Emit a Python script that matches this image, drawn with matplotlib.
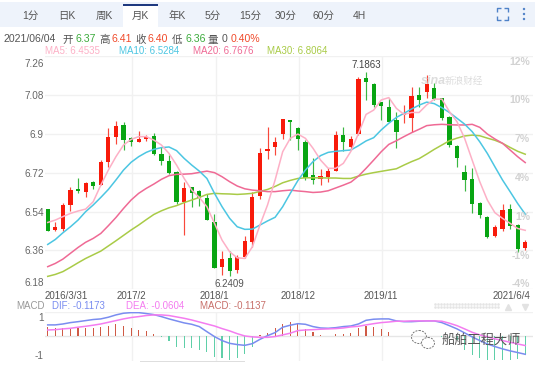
import matplotlib
matplotlib.use("Agg")
import matplotlib.pyplot as plt
from matplotlib.patches import Rectangle, Ellipse
from matplotlib.transforms import ScaledTranslation

plt.rcParams['font.family'] = ['Liberation Sans', 'Noto Sans CJK SC', 'DejaVu Sans']

open_ = [6.551,6.455,6.459,6.569,6.645,6.631,6.679,6.665,6.769,6.886,6.942,6.881,6.863,6.877,6.889,6.807,6.776,6.724,6.586,6.653,6.634,6.603,6.490,6.282,6.325,6.268,6.328,6.401,6.612,6.820,
         6.838,6.898,6.963,6.926,6.863,6.708,6.691,6.702,6.728,6.897,6.838,6.900,7.161,7.131,7.047,7.025,6.964,6.988,6.973,7.081,7.096,7.115,7.066,6.979,6.844,6.724,6.690,6.580,6.516,6.427,6.459,6.554,6.478,6.37]
close = [6.449,6.469,6.569,6.640,6.634,6.671,6.660,6.769,6.886,6.937,6.872,6.861,6.877,6.885,6.807,6.775,6.718,6.586,6.648,6.628,6.605,6.500,6.280,6.320,6.265,6.328,6.404,6.609,6.810,6.829,
         6.863,6.968,6.956,6.875,6.694,6.688,6.704,6.727,6.895,6.861,6.877,7.155,7.143,7.035,7.031,6.957,6.911,6.997,7.078,7.059,7.131,7.062,6.976,6.849,6.790,6.687,6.575,6.524,6.422,6.467,6.548,6.473,6.367,6.40]
high = [6.551,6.493,6.578,6.653,6.696,6.679,6.684,6.779,6.928,6.959,6.956,6.885,6.912,6.895,6.903,6.838,6.803,6.727,6.677,6.656,6.640,6.622,6.527,6.357,6.356,6.337,6.427,6.633,6.837,6.931,
        6.885,6.971,6.963,6.931,6.872,6.789,6.736,6.741,6.915,6.931,6.891,7.164,7.1863,7.135,7.050,7.068,7.003,7.035,7.119,7.119,7.174,7.135,7.068,6.982,6.849,6.755,6.744,6.585,6.520,6.478,6.574,6.574,6.481,6.41]
low = [6.449,6.449,6.449,6.544,6.625,6.609,6.645,6.665,6.748,6.854,6.826,6.843,6.863,6.868,6.804,6.755,6.714,6.574,6.430,6.563,6.566,6.500,6.280,6.246,6.2409,6.257,6.325,6.377,6.597,6.786,
       6.803,6.878,6.872,6.826,6.687,6.668,6.662,6.677,6.728,6.823,6.826,6.895,7.058,7.027,6.965,6.956,6.836,6.951,6.909,7.027,7.068,7.058,6.965,6.841,6.747,6.637,6.535,6.509,6.419,6.424,6.452,6.459,6.354,6.36]

ma5 = [6.490,6.501,6.517,6.532,6.543,6.552,6.586,6.663,6.733,6.795,6.849,6.875,6.888,6.888,6.872,6.849,6.810,6.756,6.694,6.640,6.606,6.563,6.486,6.408,6.354,6.326,6.323,6.377,6.478,6.571,
       6.687,6.818,6.880,6.900,6.880,6.834,6.779,6.741,6.741,6.764,6.820,6.903,6.991,7.011,7.058,7.069,7.019,6.991,7.000,7.000,7.035,7.062,7.062,7.004,6.957,6.880,6.779,6.679,6.594,6.535,6.509,6.486,6.462,6.4535]
ma10 = [6.388,6.411,6.442,6.470,6.501,6.540,6.571,6.606,6.643,6.687,6.733,6.769,6.795,6.815,6.829,6.837,6.840,6.823,6.787,6.756,6.728,6.694,6.625,6.563,6.509,6.470,6.458,6.459,6.478,6.497,
        6.514,6.563,6.625,6.684,6.733,6.772,6.800,6.815,6.820,6.823,6.826,6.846,6.868,6.883,6.919,6.950,6.977,6.996,7.016,7.034,7.048,7.041,7.022,7.000,6.973,6.946,6.911,6.864,6.810,6.748,6.687,6.633,6.578,6.5284]
ma20 = [6.285,6.300,6.320,6.347,6.374,6.398,6.416,6.439,6.475,6.513,6.555,6.594,6.625,6.648,6.668,6.690,6.707,6.713,6.714,6.716,6.722,6.728,6.721,6.702,6.679,6.659,6.646,6.640,6.637,6.633,
        6.633,6.637,6.640,6.636,6.633,6.629,6.631,6.637,6.650,6.663,6.677,6.705,6.741,6.779,6.818,6.852,6.869,6.888,6.906,6.922,6.939,6.943,6.945,6.943,6.942,6.942,6.945,6.931,6.900,6.877,6.857,6.826,6.795,6.7676]
ma30 = [6.240,6.249,6.262,6.282,6.303,6.323,6.340,6.357,6.381,6.405,6.430,6.455,6.478,6.503,6.527,6.544,6.558,6.568,6.582,6.594,6.606,6.620,6.625,6.623,6.622,6.620,6.622,6.625,6.634,6.643,
        6.657,6.674,6.685,6.694,6.697,6.697,6.697,6.696,6.696,6.694,6.694,6.705,6.714,6.721,6.727,6.733,6.739,6.756,6.772,6.786,6.807,6.829,6.849,6.869,6.881,6.891,6.895,6.892,6.881,6.871,6.857,6.838,6.820,6.8064]

dif = [.074,.074,.080,.089,.095,.102,.109,.113,.124,.139,.150,.154,.154,.148,.141,.128,.113,.100,.087,.078,.063,.030,-.002,-.028,-.046,-.054,-.059,-.048,-.020,.004,
       .024,.059,.072,.082,.078,.063,.054,.052,.056,.063,.067,.080,.104,.111,.113,.113,.100,.095,.095,.098,.100,.100,.089,.069,.048,.022,-.004,-.028,-.050,-.067,-.082,-.095,-.106,-.1173]
dea = [.041,.043,.048,.052,.059,.065,.072,.080,.091,.102,.113,.122,.128,.135,.139,.139,.135,.126,.117,.106,.093,.080,.067,.050,.035,.017,.002,-.004,-.007,-.007,
       -.002,.009,.020,.037,.041,.043,.046,.048,.050,.054,.061,.065,.074,.082,.089,.093,.098,.098,.100,.100,.100,.100,.098,.085,.069,.048,.026,.009,-.004,-.017,-.028,-.039,-.050,-.0604]
hist = [.063,.052,.052,.056,.056,.056,.052,.059,.069,.078,.069,.056,.041,.035,.015,-.007,-.028,-.067,-.074,-.078,-.089,-.100,-.132,-.139,-.154,-.139,-.117,-.072,.007,.020,
        .052,.078,.091,.078,.048,.026,.009,.002,.015,.017,.020,.056,.069,.061,.050,.030,.004,.002,0,0,0,0,-.004,-.011,-.026,-.089,-.122,-.143,-.154,-.154,-.154,-.154,-.148,-.1137]

price_ticks = [7.26, 7.08, 6.9, 6.72, 6.54, 6.36, 6.18]
price_labels = ['7.26', '7.08', '6.9', '6.72', '6.54', '6.36', '6.18']
date_pos = [-0.36, 11, 22, 33, 44, 63.66]
date_labels = ['2016/3/31', '2017/2', '2018/1', '2018/12', '2019/11', '2021/6/4']
pct_labels = ['12%', '10%', '7%', '4%', '1%', '-1%', '-4%']
tabs = ['1分', '日K', '周K', '月K', '年K', '5分', '15分', '30分', '60分', '4H']

W, H = 535, 365
RED, GREEN = '#f81a0a', '#08a512'
GRID = '#f1f1f1'
xs = list(range(len(close)))
xlim = ((45 - 47.7) / 7.58, (533 - 47.7) / 7.58)

fig = plt.figure(figsize=(W / 100, H / 100), dpi=100, facecolor='white')

def rect(x0, top, x1, bottom):
    return [x0 / W, 1 - bottom / H, (x1 - x0) / W, (bottom - top) / H]

# --- price panel
ax = fig.add_axes(rect(45, 56.4, 533, 289.3))
ax.set_xlim(*xlim)
ax.set_ylim(6.18, 7.26)
for s in ax.spines.values():
    s.set_visible(False)
ax.set_yticks(price_ticks, price_labels)
ax.set_xticks(date_pos, date_labels)
ax.tick_params(length=0, labelsize=7.2, colors='#666666', pad=0.8)
ax.tick_params(axis='x', pad=1.2, labelcolor='#555555', labelsize=7)
ax.set_axisbelow(True)
ax.grid(True, axis='y', color=GRID, lw=1)
ax.grid(False, axis='x')
for p in date_pos[1:5]:
    ax.axvline(p + 0.15, color=GRID, lw=1, zorder=0)
yl = ax.get_yticklabels()
yl[0].set_va('top')
yl[-1].set_va('bottom')
down = ScaledTranslation(0, -1.6 / 72, fig.dpi_scale_trans)
up = ScaledTranslation(0, 1.2 / 72, fig.dpi_scale_trans)
yl[0].set_transform(yl[0].get_transform() + down)
yl[-1].set_transform(yl[-1].get_transform() + up)
xl = ax.get_xticklabels()
xl[0].set_ha('left')
xl[-1].set_ha('right')

for x, o, c, h, l in zip(xs, open_, close, high, low):
    col = RED if c >= o else GREEN
    ax.vlines(x, l, h, color=col, lw=0.85, alpha=0.8, zorder=2)
    ax.bar(x, abs(c - o), 0.56, bottom=min(o, c), color=col, lw=0, zorder=3)

ax.plot(xs, ma30, color='#a9cb47', lw=1.1, zorder=4)
ax.plot(xs, ma20, color='#ef6a95', lw=1.1, zorder=4)
ax.plot(xs, ma10, color='#4cc6e2', lw=1.1, zorder=4)
ax.plot(xs, ma5, color='#fdb0c6', lw=1.1, zorder=4)
ax.text(42, 7.1863 + 0.012, '7.1863', fontsize=7, color='#444444', ha='center', va='bottom', zorder=5)
ax.text(24, 6.2409 - 0.012, '6.2409', fontsize=7, color='#555555', ha='center', va='top', zorder=5)

# --- MACD panel
ax2 = fig.add_axes(rect(45, 312, 533, 361))
ax2.set_xlim(*xlim)
ax2.set_ylim(-0.161, 0.158)
for s in ax2.spines.values():
    s.set_visible(False)
ax2.set_xticks([])
ax2.set_yticks([0.124, -0.124], ['1', '-1'])
ax2.tick_params(length=0, labelsize=7.2, colors='#666666', pad=1)
ax2.axhline(0, color='#e6e6e6', lw=1, zorder=0)
ax2.axhline(0.158, color=GRID, lw=1, zorder=0)
for p in date_pos[1:5]:
    ax2.axvline(p + 0.15, color=GRID, lw=1, zorder=0)
ax2.bar(xs, hist, 0.15, color=['#cf5a45' if v >= 0 else '#5fcfa8' for v in hist], lw=0, zorder=2)
ax2.plot(xs, dif, color='#7a8df0', lw=1.1, zorder=3)
ax2.plot(xs, dea, color='#f47cf0', lw=1.1, zorder=3)

# --- page furniture, drawn in pixel coordinates
ov = fig.add_axes([0, 0, 1, 1], zorder=10, facecolor='none')
ov.set_xlim(0, W)
ov.set_ylim(H, 0)
ov.axis('off')
ov.add_patch(Rectangle((0, 2), W, 25, fc='#eef3fb', ec='none'))
ov.add_patch(Rectangle((123, 4), 35, 23, fc='white', ec='none'))
ov.add_patch(Rectangle((123, 4), 35, 1.5, fc='#1f3a80', ec='none'))
tab_x = [30, 67, 104, 140, 177, 213, 250, 286, 323, 359]
for x, t in zip(tab_x, tabs):
    ov.text(x, 16, t, fontsize=7.5, color='#555555', ha='center', va='center')

for (x0, y0, dx, dy) in [(497, 8, 4, 4), (508, 8, -4, 4), (497, 20, 4, -4), (508, 20, -4, -4)]:
    ov.plot([x0 + dx, x0, x0], [y0, y0, y0 + dy], color='#4f82c8', lw=1, solid_capstyle='butt')
for y in (9, 14, 19):
    ov.add_patch(Ellipse((524, y), 2.4, 2.4, fc='#4f82c8', ec='none'))

info = [(4, '2021/06/04', '#555555'), (62, '开', '#555555'), (75, '6.37', '#3cab3c'), (99, '高', '#555555'),
        (112, '6.41', '#f04a2a'), (135, '收', '#555555'), (148, '6.40', '#f04a2a'), (172, '低', '#555555'),
        (185, '6.36', '#3cab3c'), (208, '量', '#555555'), (222, '0', '#555555'), (231, '0.40%', '#f04a2a')]
for x, t, c in info:
    ov.text(x, 39.5, t, fontsize=7.6, color=c, ha='left', va='center')

ma_labels = [(45, 'MA5: 6.4535', '#fdb0c6'), (119, 'MA10: 6.5284', '#4cc6e2'),
             (193, 'MA20: 6.7676', '#ef6a95'), (267, 'MA30: 6.8064', '#a9cb47')]
for x, t, c in ma_labels:
    ov.text(x, 51.5, t, fontsize=7, color=c, ha='left', va='center')

macd_labels = [(16, 'MACD', '#999999'), (52, 'DIF: -0.1173', '#7a8df0'),
               (126, 'DEA: -0.0604', '#f47cf0'), (200, 'MACD: -0.1137', '#c8706a')]
for x, t, c in macd_labels:
    ov.text(x, 306, t, fontsize=7, color=c, ha='left', va='center')

pct_y = [62, 100, 139, 178, 217, 256, 284]
for y, t in zip(pct_y, pct_labels):
    ov.text(530, y, t, fontsize=7.5, color='#d2d2d2', ha='right', va='center', fontweight='bold')

ov.text(421, 81, 'sina', fontsize=9, color='#dddddd', ha='left', va='center', style='italic', fontweight='bold')
ov.text(445, 81, '新浪财经', fontsize=6.9, color='#dddddd', ha='left', va='center', style='italic')

# scroll hint and arrows
for y in (304, 306.5):
    ov.plot(range(435, 501, 3), [y] * 22, ls='none', marker='s', ms=0.8, color='#e4e4e4')
ov.plot([508], [307], marker='^', ms=4.5, color='#e2e2e2', ls='none')
ov.plot([525], [307], marker='v', ms=4.5, color='#e2e2e2', ls='none')
ov.add_patch(Rectangle((140, 360.5), 105, 1.5, fc='#dedede', ec='none'))

# WeChat watermark
ov.add_patch(Ellipse((419, 337), 15, 13, fc='none', ec='#777777', lw=0.7, ls=(0, (2, 1.2))))
ov.add_patch(Ellipse((428, 343), 13, 11, fc='white', ec='#777777', lw=0.7, ls=(0, (2, 1.2))))
ov.text(442, 341, '船舶工程大师', fontsize=9.5, color='#555555', ha='left', va='center')

fig.savefig('out.png', dpi=100)
